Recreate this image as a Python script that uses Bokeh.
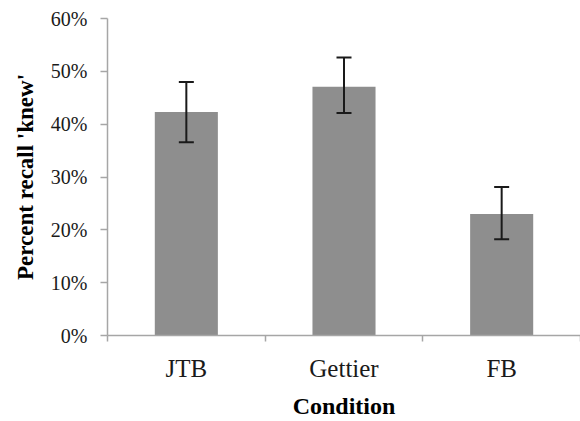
from bokeh.plotting import figure
from bokeh.models import ColumnDataSource, Whisker, TeeHead, FixedTicker, NumeralTickFormatter, Range1d
from bokeh.embed import file_html
from bokeh.resources import INLINE

categories = ["JTB", "Gettier", "FB"]
recall = [0.423, 0.471, 0.230]
err_lower = [0.366, 0.421, 0.182]
err_upper = [0.480, 0.526, 0.281]
y_ticks = [0.0, 0.1, 0.2, 0.3, 0.4, 0.5, 0.6]

xpos = [i + 0.5 for i in range(len(categories))]
src = ColumnDataSource(dict(x=xpos, top=recall, lower=err_lower, upper=err_upper))

FONT = "Liberation Serif"

p = figure(width=580, height=421, output_backend="svg", toolbar_location=None,
           x_range=Range1d(0, len(categories)), y_range=Range1d(0, 0.6),
           min_border_left=107, min_border_top=18, min_border_bottom=86, min_border_right=0)
p.outline_line_color = None
p.xgrid.grid_line_color = None
p.ygrid.grid_line_color = None

p.vbar(x="x", top="top", width=0.4, source=src, fill_color="#8e8e8e", line_color=None)

w = Whisker(base="x", lower="lower", upper="upper", source=src, level="overlay",
            line_color="#1a1a1a", line_width=2,
            upper_head=TeeHead(size=15, line_color="#1a1a1a", line_width=2),
            lower_head=TeeHead(size=15, line_color="#1a1a1a", line_width=2))
p.add_layout(w)

# x axis
xa = p.xaxis[0]
xa.ticker = FixedTicker(ticks=xpos, minor_ticks=list(range(len(categories) + 1)))
xa.major_label_overrides = {x: c for x, c in zip(xpos, categories)}
xa.major_tick_out = 0
xa.major_tick_in = 0
xa.minor_tick_out = 6
xa.minor_tick_in = 0
xa.minor_tick_line_color = "#a6a6a6"
xa.minor_tick_line_width = 1.5
xa.axis_line_color = "#a6a6a6"
xa.axis_line_width = 1.5
xa.major_label_text_font = FONT
xa.major_label_text_font_size = "25px"
xa.major_label_text_color = "#1a1a1a"
xa.major_label_standoff = 13
xa.axis_label = "Condition"
xa.axis_label_text_font = FONT
xa.axis_label_text_font_size = "24px"
xa.axis_label_text_font_style = "bold"
xa.axis_label_text_color = "#000000"
xa.axis_label_standoff = 8

# y axis
ya = p.yaxis[0]
ya.ticker = FixedTicker(ticks=y_ticks)
ya.formatter = NumeralTickFormatter(format="0%")
ya.major_tick_out = 7
ya.major_tick_in = 0
ya.minor_tick_out = 0
ya.minor_tick_in = 0
ya.major_tick_line_color = "#a6a6a6"
ya.major_tick_line_width = 1.5
ya.axis_line_color = "#a6a6a6"
ya.axis_line_width = 1.5
ya.major_label_text_font = FONT
ya.major_label_text_font_size = "20px"
ya.major_label_text_color = "#1a1a1a"
ya.major_label_standoff = 13
ya.axis_label = "Percent recall 'knew'"
ya.axis_label_text_font = FONT
ya.axis_label_text_font_size = "23px"
ya.axis_label_text_font_style = "bold"
ya.axis_label_text_color = "#000000"
ya.axis_label_standoff = 10

open("out.html", "w").write(file_html(p, INLINE))
